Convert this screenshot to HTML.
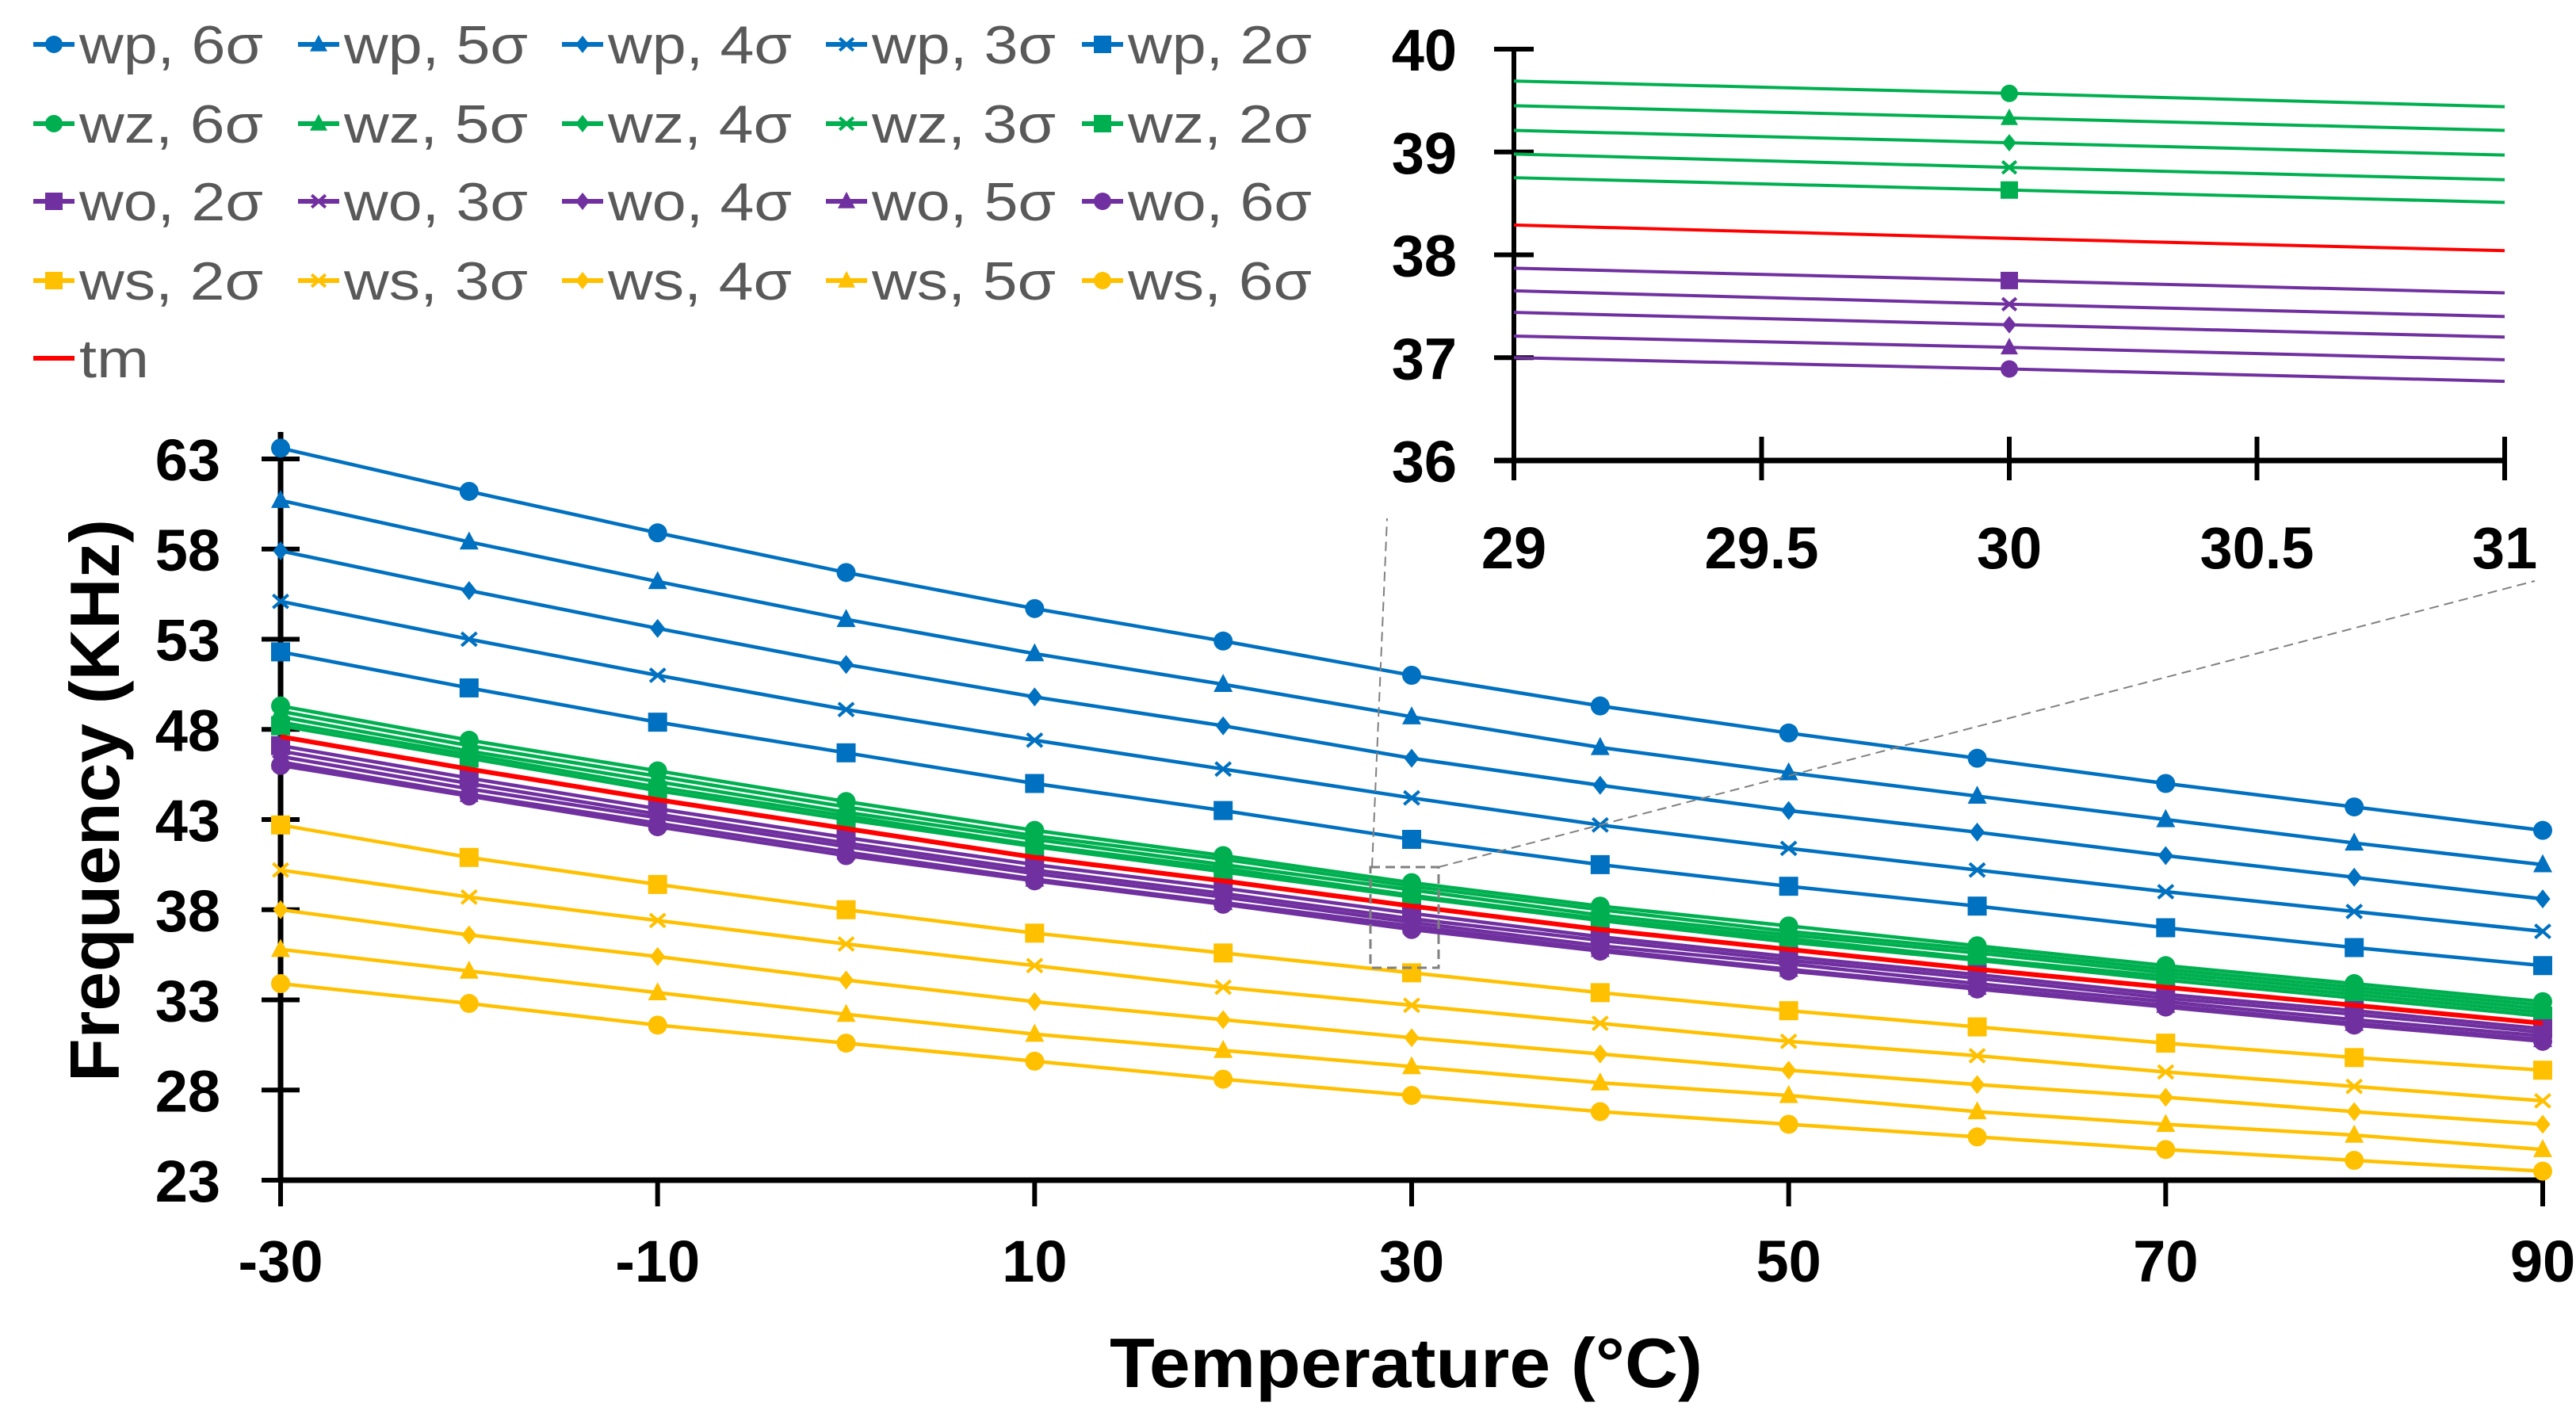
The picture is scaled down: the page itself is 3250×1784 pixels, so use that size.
<!DOCTYPE html>
<html><head><meta charset="utf-8"><style>
html,body{margin:0;padding:0;background:#fff}
svg{display:block}
text{font-family:"Liberation Sans",sans-serif}
</style></head><body>
<svg id="chart" width="3250" height="1784" viewBox="0 0 3250 1784" xmlns="http://www.w3.org/2000/svg">
<rect width="3250" height="1784" fill="#fff"/>
<g id="main"></g>
<g id="inset"></g>
<g id="legend"></g>
</svg>
<script>
const temps = [-30,-20,-10,0,10,20,30,40,50,60,70,80,90];
const xTicks = [-30,-10,10,30,50,70,90];
const yTicks = [23,28,33,38,43,48,53,58,63];
const seriesNames = ["wp, 6σ","wp, 5σ","wp, 4σ","wp, 3σ","wp, 2σ","wz, 6σ","wz, 5σ","wz, 4σ","wz, 3σ","wz, 2σ","wo, 2σ","wo, 3σ","wo, 4σ","wo, 5σ","wo, 6σ","ws, 2σ","ws, 3σ","ws, 4σ","ws, 5σ","ws, 6σ","tm"];
const wp6 = [63.6,61.2,58.9,56.7,54.7,52.9,51.0,49.3,47.8,46.4,45.0,43.7,42.4];
const wp5 = [60.7,58.4,56.2,54.1,52.2,50.5,48.7,47.0,45.6,44.3,43.0,41.7,40.5];
const wp4 = [57.9,55.7,53.6,51.6,49.8,48.2,46.4,44.9,43.5,42.3,41.0,39.8,38.6];
const wp3 = [55.1,53.0,51.0,49.1,47.4,45.8,44.2,42.7,41.4,40.2,39.0,37.9,36.8];
const wp2 = [52.3,50.3,48.4,46.7,45.0,43.5,41.9,40.5,39.3,38.2,37.0,35.9,34.9];
const wz6 = [49.3,47.4,45.7,44.0,42.4,41.0,39.5,38.2,37.1,36.0,34.9,33.9,32.9];
const wz5 = [49.0,47.1,45.4,43.7,42.1,40.8,39.3,38.0,36.8,35.8,34.7,33.7,32.7];
const wz4 = [48.7,46.8,45.1,43.4,41.9,40.5,39.1,37.7,36.6,35.6,34.5,33.5,32.5];
const wz3 = [48.4,46.6,44.8,43.2,41.6,40.3,38.8,37.5,36.4,35.3,34.3,33.3,32.3];
const wz2 = [48.2,46.4,44.6,43.0,41.5,40.1,38.7,37.4,36.2,35.2,34.1,33.1,32.1];
const wo2 = [47.1,45.3,43.6,42.0,40.5,39.2,37.8,36.5,35.4,34.4,33.3,32.4,31.4];
const wo3 = [46.8,45.0,43.3,41.7,40.2,38.9,37.5,36.3,35.2,34.2,33.1,32.2,31.2];
const wo4 = [46.5,44.7,43.1,41.5,40.0,38.7,37.3,36.0,35.0,33.9,32.9,31.9,31.0];
const wo5 = [46.2,44.4,42.8,41.2,39.7,38.4,37.1,35.8,34.7,33.7,32.7,31.7,30.8];
const wo6 = [46.0,44.3,42.6,41.0,39.6,38.3,36.9,35.7,34.6,33.6,32.6,31.6,30.7];
const ws2 = [42.7,40.9,39.4,38.0,36.7,35.6,34.5,33.4,32.4,31.5,30.6,29.8,29.1];
const ws3 = [40.2,38.7,37.4,36.1,34.9,33.7,32.7,31.7,30.7,29.9,29.0,28.2,27.4];
const ws4 = [38.0,36.6,35.4,34.1,32.9,31.9,30.9,30.0,29.1,28.3,27.6,26.8,26.1];
const ws5 = [35.8,34.6,33.4,32.2,31.1,30.2,29.3,28.4,27.7,26.8,26.1,25.5,24.7];
const ws6 = [33.9,32.8,31.6,30.6,29.6,28.6,27.7,26.8,26.1,25.4,24.7,24.1,23.5];
const tm  = [47.6,45.8,44.1,42.5,40.9,39.6,38.2,36.9,35.8,34.7,33.7,32.7,31.7];
const insetTemps = [29,30,31];
const insetXTicks = ["29","29.5","30","30.5","31"];
const insetYTicks = [36,37,38,39,40];
const iwz6 = [39.69,39.57,39.44];
const iwz5 = [39.45,39.33,39.21];
const iwz4 = [39.21,39.09,38.97];
const iwz3 = [38.98,38.85,38.73];
const iwz2 = [38.75,38.63,38.51];
const itm  = [38.29,38.16,38.04];
const iwo2 = [37.87,37.75,37.63];
const iwo3 = [37.65,37.52,37.40];
const iwo4 = [37.44,37.32,37.20];
const iwo5 = [37.21,37.10,36.98];
const iwo6 = [37.00,36.89,36.77];

const NS="http://www.w3.org/2000/svg";
const BLUE="#0070C0",GREEN="#00B050",PURPLE="#7030A0",YEL="#FFC000",RED="#FF0000";
function mk(tag,attrs,parent){const e=document.createElementNS(NS,tag);for(const k in attrs)e.setAttribute(k,attrs[k]);parent.appendChild(e);return e;}
const seriesDefs = [
 [wp6,BLUE,"circle"],[wp5,BLUE,"triangle"],[wp4,BLUE,"diamond"],[wp3,BLUE,"x"],[wp2,BLUE,"square"],
 [wz6,GREEN,"circle"],[wz5,GREEN,"triangle"],[wz4,GREEN,"diamond"],[wz3,GREEN,"x"],[wz2,GREEN,"square"],
 [wo2,PURPLE,"square"],[wo3,PURPLE,"x"],[wo4,PURPLE,"diamond"],[wo5,PURPLE,"triangle"],[wo6,PURPLE,"circle"],
 [ws2,YEL,"square"],[ws3,YEL,"x"],[ws4,YEL,"diamond"],[ws5,YEL,"triangle"],[ws6,YEL,"circle"],
 [tm,RED,"none"]];
function marker(g,type,cx,cy,s,color){
  let e;
  if(type==="circle") e=mk("circle",{cx:cx,cy:cy,r:s,fill:color},g);
  else if(type==="square") e=mk("rect",{x:cx-s,y:cy-s,width:2*s,height:2*s,fill:color},g);
  else if(type==="triangle") e=mk("polygon",{points:`${cx},${cy-s*1.1} ${cx+s},${cy+s*0.8} ${cx-s},${cy+s*0.8}`,fill:color},g);
  else if(type==="diamond") e=mk("polygon",{points:`${cx},${cy-s} ${cx+s*0.8},${cy} ${cx},${cy+s} ${cx-s*0.8},${cy}`,fill:color},g);
  else if(type==="x") e=mk("path",{d:`M${cx-s*0.8},${cy-s*0.7}L${cx+s*0.8},${cy+s*0.7}M${cx-s*0.8},${cy+s*0.7}L${cx+s*0.8},${cy-s*0.7}`,stroke:color,"stroke-width":4},g);
  return e;
}
const main=document.getElementById("main");
const X=v=>354+(v+30)/120*(3208-354);
const Y=v=>1489-(v-23)/40*(1489-579);
const ax=mk("g",{},main);


mk("line",{x1:354,y1:545,x2:354,y2:1489,stroke:"#000","stroke-width":7},ax);
mk("line",{x1:354,y1:1489,x2:3208,y2:1489,stroke:"#000","stroke-width":7},ax);
yTicks.forEach(t=>{
  mk("line",{x1:330,y1:Y(t),x2:378,y2:Y(t),stroke:"#000","stroke-width":6},ax);
  const tx=mk("text",{x:278,y:Y(t)+27,"text-anchor":"end","font-size":74,"font-weight":"bold"},ax);
  tx.textContent=t;
  
  
});
xTicks.forEach(t=>{
  mk("line",{x1:X(t),y1:1489,x2:X(t),y2:1522,stroke:"#000","stroke-width":6},ax);
  const tx=mk("text",{x:X(t),y:1617,"text-anchor":"middle","font-size":74,"font-weight":"bold"},ax);
  tx.textContent=t;
  
  
});
const xt=mk("text",{x:1774,y:1750,"text-anchor":"middle","font-size":88,"font-weight":"bold",textLength:748,lengthAdjust:"spacingAndGlyphs"},main);
xt.textContent="Temperature (°C)";


const yt=mk("text",{x:0,y:0,"text-anchor":"middle","font-size":88,"font-weight":"bold",textLength:710,lengthAdjust:"spacingAndGlyphs",transform:"translate(150,1010) rotate(-90)"},main);
yt.textContent="Frequency (KHz)";


seriesDefs.forEach((d,i)=>{
  const g=mk("g",{},main);
  
  
  mk("polyline",{points:temps.map((t,j)=>X(t)+","+Y(d[0][j])).join(" "),fill:"none",stroke:d[1],"stroke-width":d[1]===RED?6:4.5},g);
  if(d[2]!=="none") temps.forEach((t,j)=>{marker(g,d[2],X(t),Y(d[0][j]),12,d[1]);});
});
const zb=mk("g",{fill:"none",stroke:"#808080","stroke-width":3,"stroke-dasharray":"12,7"},main);


mk("rect",{x:1729,y:1094,width:86,height:127},zb);
mk("line",{x1:1731,y1:1094,x2:1750,y2:654,"stroke-width":2},zb);
mk("line",{x1:1815,y1:1094,x2:3198,y2:733,"stroke-width":2},zb);
const ins=document.getElementById("inset");
const IX=v=>1910+(v-29)/2*(3160-1910);
const IY=v=>581-(v-36)/4*(581-62);
mk("rect",{x:1840,y:20,width:1380,height:640,fill:"#fff"},ins);
const iax=mk("g",{},ins);


insetYTicks.forEach(t=>{
  mk("line",{x1:1885,y1:IY(t),x2:1935,y2:IY(t),stroke:"#000","stroke-width":6},iax);
  const tx=mk("text",{x:1838,y:IY(t)+27,"text-anchor":"end","font-size":74,"font-weight":"bold"},iax);
  tx.textContent=t;
  
  
});
insetXTicks.forEach(t=>{
  const v=parseFloat(t);
  mk("line",{x1:IX(v),y1:IY(36)-30,x2:IX(v),y2:IY(36)+25,stroke:"#000","stroke-width":6},iax);
  const tx=mk("text",{x:IX(v),y:717,"text-anchor":"middle","font-size":74,"font-weight":"bold"},iax);
  tx.textContent=t;
  
  
});
mk("line",{x1:1910,y1:62,x2:1910,y2:584,stroke:"#000","stroke-width":6},iax);
mk("line",{x1:1885,y1:581,x2:3163,y2:581,stroke:"#000","stroke-width":7},iax);
const insetDefs=[[iwz6,GREEN,"circle"],[iwz5,GREEN,"triangle"],[iwz4,GREEN,"diamond"],[iwz3,GREEN,"x"],[iwz2,GREEN,"square"],[itm,RED,"none"],[iwo2,PURPLE,"square"],[iwo3,PURPLE,"x"],[iwo4,PURPLE,"diamond"],[iwo5,PURPLE,"triangle"],[iwo6,PURPLE,"circle"]];
insetDefs.forEach((d,i)=>{
  const g=mk("g",{},ins);
  
  
  mk("polyline",{points:insetTemps.map((t,j)=>IX(t)+","+IY(d[0][j])).join(" "),fill:"none",stroke:d[1],"stroke-width":4},g);
  if(d[2]!=="none") marker(g,d[2],IX(insetTemps[1]),IY(d[0][1]),11,d[1]);
});
const leg=document.getElementById("legend");
const colX=[42,376,709,1042,1365];
const rowY=[56,156,254,354,452];
seriesNames.forEach((nm,k)=>{
  const r=Math.floor(k/5),c=k%5;
  const d=seriesDefs[k];
  const g=mk("g",{},leg);
  
  
  const x0=colX[c],y0=rowY[r];
  mk("line",{x1:x0,y1:y0,x2:x0+52,y2:y0,stroke:d[1],"stroke-width":6},g);
  if(d[2]!=="none") marker(g,d[2],x0+26,y0,11,d[1]);
  const tx=mk("text",{x:x0+58,y:y0+24,"font-size":68,fill:"#595959",textLength:k===20?88:232,lengthAdjust:"spacingAndGlyphs"},g);
  tx.textContent=nm;
});
</script>
</body></html>
